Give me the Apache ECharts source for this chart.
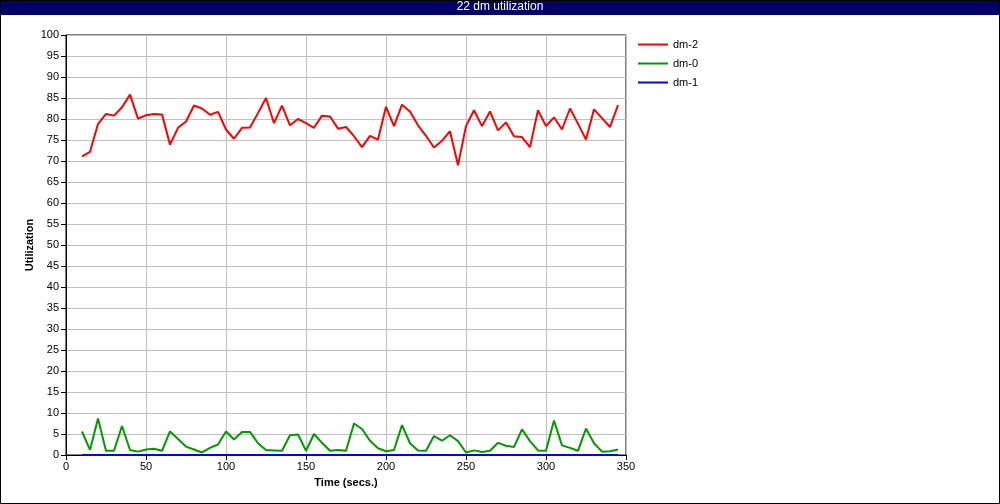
<!DOCTYPE html>
<html>
<head>
<meta charset="utf-8">
<script src="https://cdn.jsdelivr.net/npm/echarts@6/dist/echarts.min.js"></script>
<style>
html,body{margin:0;padding:0;background:#fff;}
#c{width:1000px;height:504px;}
</style>
</head>
<body>
<div id="c"></div>
<script>
const times = [10,15,20,25,30,35,40,45,50,55,60,65,70,75,80,85,90,95,100,105,110,115,120,
125,130,135,140,145,150,155,160,165,170,175,180,185,190,195,200,205,210,215,220,225,230,235,240,
245,250,255,260,265,270,275,280,285,290,295,300,305,310,315,320,325,330,335,340,345];
const dm2 = [71.1,72.2,78.8,81.2,80.8,82.8,85.8,80.1,80.9,81.2,81.1,73.9,77.9,79.4,83.2,82.5,81.0,81.7,77.5,75.3,77.9,78.0,81.4,
85.0,79.0,83.2,78.5,80.0,79.0,77.9,80.8,80.6,77.7,78.1,75.9,73.3,76.0,75.1,82.9,78.3,83.4,81.8,78.5,76.0,73.2,74.8,77.1,
69.0,78.3,82.1,78.3,81.8,77.3,79.2,75.9,75.7,73.3,82.1,78.3,80.4,77.5,82.5,78.9,75.1,82.3,80.2,78.1,83.3];
const dm0 = [5.6,1.2,8.7,1.0,1.0,6.9,1.2,0.8,1.3,1.5,1.0,5.6,3.8,2.0,1.3,0.6,1.7,2.5,5.6,3.7,5.5,5.5,2.8,
1.2,1.1,1.0,4.7,4.9,1.0,5.0,2.9,1.0,1.2,1.0,7.5,6.2,3.4,1.6,0.9,1.2,7.1,2.8,1.1,1.0,4.5,3.4,4.7,
3.3,0.6,1.1,0.7,1.0,2.9,2.2,1.9,6.1,3.3,1.1,1.0,8.2,2.3,1.7,1.0,6.3,2.8,0.8,0.9,1.3];
const dm1 = [0,0,0,0,0,0,0,0,0,0,0,0,0,0,0,0,0,0,0,0,0,0,0,
0,0,0,0,0,0,0,0,0,0,0,0,0,0,0,0,0,0,0,0,0,0,0,0,
0,0,0,0,0,0,0,0,0,0,0,0,0,0,0,0,0,0,0,0,0];
const seriesNames = ['dm-2','dm-0','dm-1'];
const seriesColors = ['#ff0000','#009900','#0000ff'];
const titleText = '22 dm utilization';
const xName = 'Time (secs.)';
const yName = 'Utilization';

const pair = arr => times.map((t,i)=>[t,arr[i]]);
const FONT = 'Liberation Sans';
const chart = echarts.init(document.getElementById('c'), null, {renderer:'canvas'});
const mk = (name, data, color) => ({
  name, type:'line', data: pair(data), symbol:'none', smooth:false,
  lineStyle:{color, width:2}, itemStyle:{color}, animation:false
});
chart.setOption({
  animation:false,
  backgroundColor:'#ffffff',
  title:{text:titleText, left:'center', top:1, padding:0,
    textStyle:{color:'#ffffff', fontSize:12, fontWeight:'normal', fontFamily:FONT}},
  graphic:[
    {type:'rect', z:-1, shape:{x:0,y:0,width:1000,height:15}, style:{fill:'#000066'}},
    {type:'rect', z:100, shape:{x:0.5,y:0.5,width:999,height:503}, style:{fill:'none', stroke:'#000', lineWidth:1}},
    {type:'text', x:30, y:245, rotation:Math.PI/2,
      style:{text:yName, align:'center', verticalAlign:'middle', fill:'#000', font:'bold 11px "Liberation Sans"'}}
  ],
  legend:{
    orient:'vertical', left:638, top:39, padding:0, itemWidth:30, itemHeight:2, itemGap:8,
    icon:'rect',
    data: seriesNames,
    textStyle:{fontFamily:FONT, fontSize:11, color:'#000'}
  },
  grid:{left:66, right:374, top:35, bottom:49, show:true, borderColor:'#000', borderWidth:1},
  xAxis:{
    type:'value', min:0, max:350, interval:50,
    name:xName, nameLocation:'middle', nameGap:22,
    nameTextStyle:{fontFamily:FONT, fontSize:11, fontWeight:'bold', color:'#000'},
    axisLine:{lineStyle:{color:'#000'}},
    axisTick:{show:true, length:5, lineStyle:{color:'#000'}},
    axisLabel:{fontFamily:FONT, fontSize:11, color:'#000', margin:6},
    splitLine:{show:true, lineStyle:{color:'#c0c0c0'}}
  },
  yAxis:{
    type:'value', min:0, max:100, interval:5,
    axisLine:{show:true, lineStyle:{color:'#000'}},
    axisTick:{show:true, length:5, lineStyle:{color:'#000'}},
    axisLabel:{fontFamily:FONT, fontSize:11, color:'#000', margin:7},
    splitLine:{show:true, lineStyle:{color:'#c0c0c0'}}
  },
  series:[
    mk(seriesNames[0], dm2, seriesColors[0]),
    mk(seriesNames[1], dm0, seriesColors[1]),
    mk(seriesNames[2], dm1, seriesColors[2])
  ]
});
</script>
</body>
</html>
